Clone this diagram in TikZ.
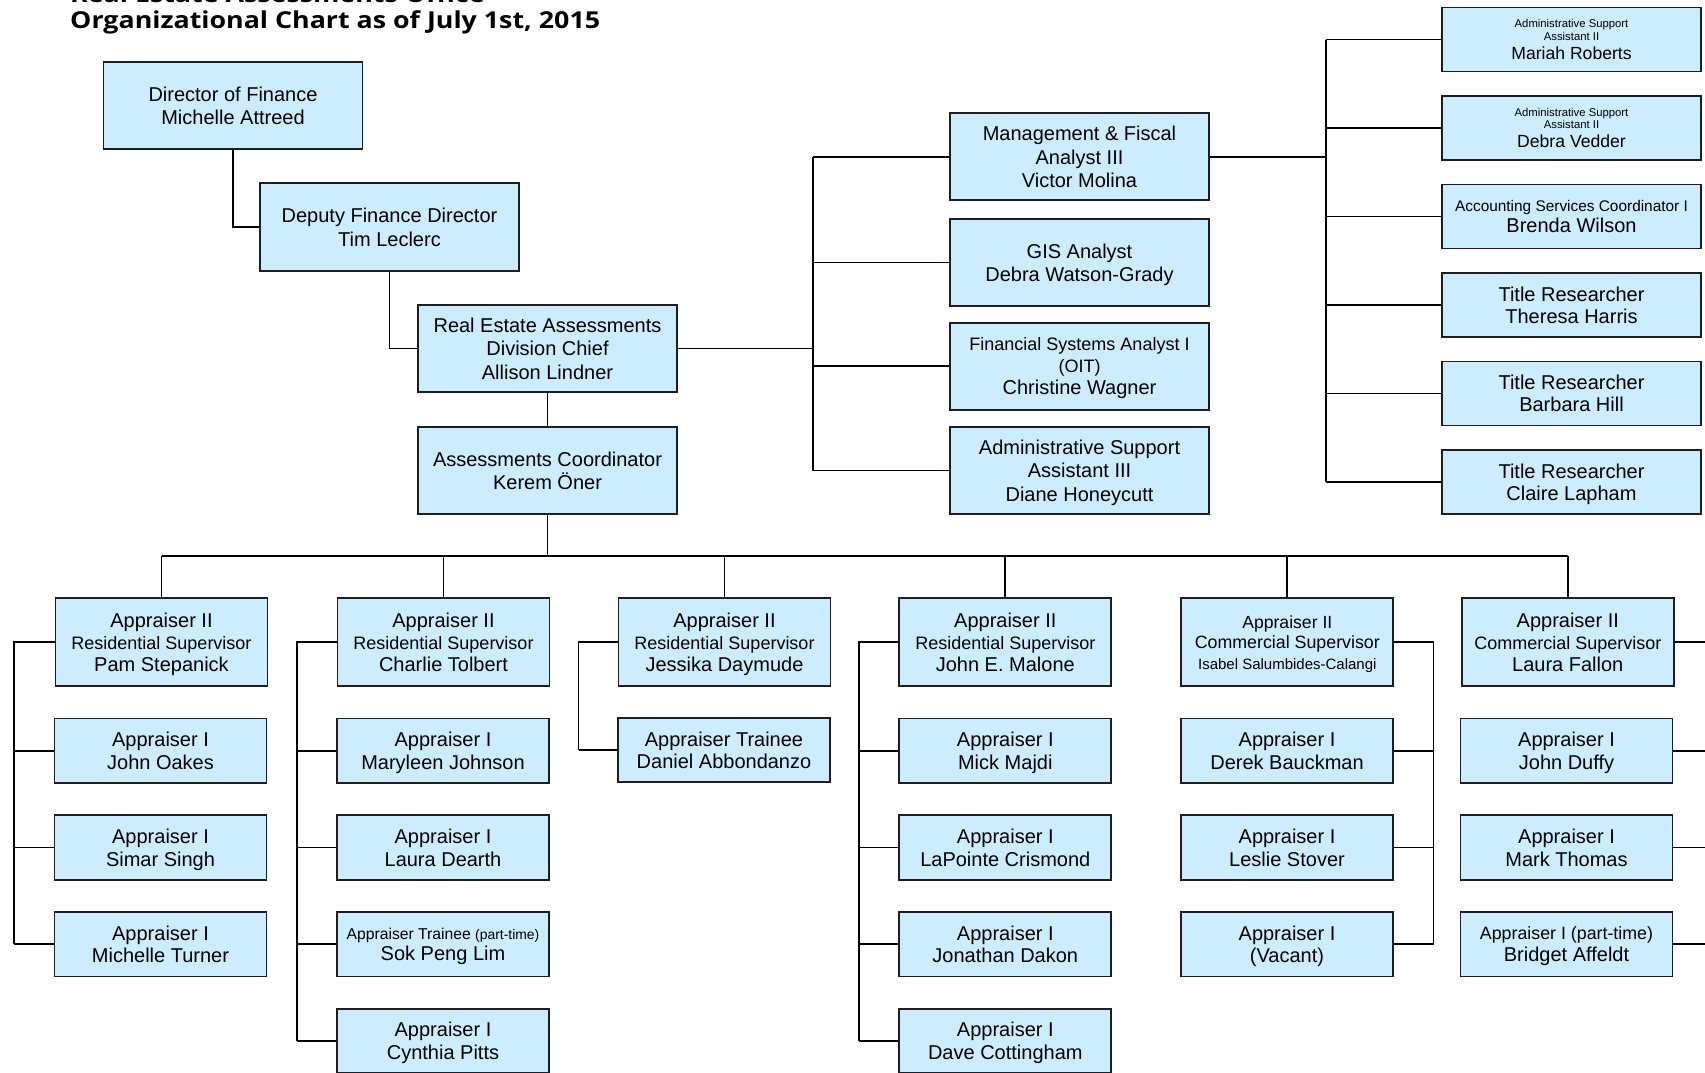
\documentclass[tikz,border=0pt]{standalone}
\usepackage{fontspec}
\setmainfont{Liberation Sans}
\newfontfamily\titlefont{Open Sans}
\definecolor{boxfill}{RGB}{204,236,255}
\definecolor{boxline}{RGB}{30,30,30}
\begin{document}
\begin{tikzpicture}[x=1pt,y=-1pt,
  box/.style={draw=boxline, fill=boxfill, line width=1.8pt, inner sep=0pt, align=center, text depth=0pt, font=\fontsize{20}{23.5}\selectfont},
  big/.style={box, minimum width=259pt, minimum height=87pt},
  rbox/.style={box, minimum width=259pt, minimum height=64pt, font=\fontsize{20}{21.7}\selectfont},
  sup/.style={box, minimum width=212pt, minimum height=88pt, font=\fontsize{20}{22}\selectfont},
  kid/.style={box, minimum width=212pt, minimum height=64.5pt, font=\fontsize{20}{22.5}\selectfont},
  conn/.style={draw=black, line width=1.8pt},
  ttl/.style={anchor=base west, inner sep=0pt, font=\titlefont\bfseries\fontsize{23.3}{25}\selectfont}
]
\useasboundingbox (0,0) rectangle (1705,1072);
\clip (0,0) rectangle (1705,1072);
\fill[white] (0,0) rectangle (1705,1072);

% title
\node[ttl] (t1) at (70,2.7) {\scalebox{1.15}[1]{Real Estate Assessments Office}};
\node[ttl] (t2) at (70,28.3) {\scalebox{1.15}[1]{Organizational Chart as of July 1st, 2015}};

% main chain
\node[big] (dir) at (233,105.5) {Director of Finance\\Michelle Attreed};
\node[big, minimum height=88pt] (dep) at (389.5,227) {Deputy Finance Director\\Tim Leclerc};
\node[big] (rea) at (547.5,348.5) {Real Estate Assessments\\Division Chief\\Allison Lindner};
\node[big] (ac) at (547.5,470.5) {Assessments Coordinator\\Kerem Öner};

% middle column
\node[big] (mfa) at (1079.5,156.8) {Management \& Fiscal\\Analyst III\\Victor Molina};
\node[big] (gis) at (1079.5,262.5) {GIS Analyst\\Debra Watson-Grady};
\node[big, font=\fontsize{20}{22}\selectfont] (fsa) at (1079.5,366.3) {{\fontsize{18}{18}\selectfont Financial Systems Analyst I}\\{\fontsize{18}{18}\selectfont (OIT)}\\Christine Wagner};
\node[big] (asa) at (1079.5,470.5) {Administrative Support\\Assistant III\\Diane Honeycutt};

% right column
\node[rbox, font=\fontsize{11.3}{12.6}\selectfont] (mr) at (1571.5,39.5) {Administrative Support\\Assistant II\\[5pt]{\fontsize{17.6}{19}\selectfont Mariah Roberts}};
\node[rbox, font=\fontsize{11.3}{12.6}\selectfont] (dv) at (1571.5,128) {Administrative Support\\Assistant II\\[5pt]{\fontsize{17.6}{19}\selectfont Debra Vedder}};
\node[rbox] (bw) at (1571.5,216.5) {{\fontsize{15.4}{16}\selectfont Accounting Services Coordinator I}\\Brenda Wilson};
\node[rbox] (th) at (1571.5,305) {Title Researcher\\Theresa Harris};
\node[rbox] (bh) at (1571.5,393.5) {Title Researcher\\Barbara Hill};
\node[rbox] (cl) at (1571.5,482) {Title Researcher\\Claire Lapham};

% supervisors
\node[sup] (s1) at (161.5,642.3) {Appraiser II\\{\fontsize{18}{18}\selectfont Residential Supervisor}\\Pam Stepanick};
\node[sup] (s2) at (443.5,642.3) {Appraiser II\\{\fontsize{18}{18}\selectfont Residential Supervisor}\\Charlie Tolbert};
\node[sup] (s3) at (724.5,642.3) {Appraiser II\\{\fontsize{18}{18}\selectfont Residential Supervisor}\\Jessika Daymude};
\node[sup] (s4) at (1005.3,642.3) {Appraiser II\\{\fontsize{18}{18}\selectfont Residential Supervisor}\\John E. Malone};
\node[sup, font=\fontsize{20}{20.5}\selectfont] (s5) at (1287.3,642.3) {{\fontsize{17.6}{18}\selectfont Appraiser II}\\{\fontsize{17.8}{18}\selectfont Commercial Supervisor}\\{\fontsize{15}{16}\selectfont Isabel Salumbides-Calangi}};
\node[sup] (s6) at (1567.8,642.3) {Appraiser II\\{\fontsize{18}{18}\selectfont Commercial Supervisor}\\Laura Fallon};

% column 1
\node[kid] (c1a) at (160.5,750.7) {Appraiser I\\John Oakes};
\node[kid] (c1b) at (160.5,847.5) {Appraiser I\\Simar Singh};
\node[kid] (c1c) at (160.5,944.2) {Appraiser I\\Michelle Turner};
% column 2
\node[kid] (c2a) at (443,750.7) {Appraiser I\\Maryleen Johnson};
\node[kid] (c2b) at (443,847.5) {Appraiser I\\Laura Dearth};
\node[kid, font=\fontsize{20}{20.5}\selectfont] (c2c) at (443,944.2) {{\fontsize{15.7}{16}\selectfont Appraiser Trainee {\fontsize{13.9}{14}\selectfont (part-time)}}\\Sok Peng Lim};
\node[kid] (c2d) at (443,1040.9) {Appraiser I\\Cynthia Pitts};
% column 3
\node[kid] (c3a) at (724,750) {Appraiser Trainee\\Daniel Abbondanzo};
% column 4
\node[kid] (c4a) at (1005.3,750.7) {Appraiser I\\Mick Majdi};
\node[kid] (c4b) at (1005.3,847.5) {Appraiser I\\LaPointe Crismond};
\node[kid] (c4c) at (1005.3,944.2) {Appraiser I\\Jonathan Dakon};
\node[kid] (c4d) at (1005.3,1040.9) {Appraiser I\\Dave Cottingham};
% column 5
\node[kid] (c5a) at (1287,750.7) {Appraiser I\\Derek Bauckman};
\node[kid] (c5b) at (1287,847.5) {Appraiser I\\Leslie Stover};
\node[kid] (c5c) at (1287,944.2) {Appraiser I\\(Vacant)};
% column 6
\node[kid] (c6a) at (1566.5,750.7) {Appraiser I\\John Duffy};
\node[kid] (c6b) at (1566.5,847.5) {Appraiser I\\Mark Thomas};
\node[kid] (c6c) at (1566.5,944.2) {{\fontsize{17.8}{18}\selectfont Appraiser I (part-time)}\\Bridget Affeldt};

% connectors: main chain
\draw[conn] (dir.south) |- (dep.west);
\draw[conn] (dep.south) |- (rea.west);
\draw[conn] (rea.south) -- (ac.north);

% middle bus
\coordinate (bm) at (813,0);
\draw[conn] (rea.east) -- (bm |- rea.east);
\draw[conn] (bm |- mfa.west) -- (bm |- asa.west);
\foreach \n in {mfa,gis,fsa,asa} \draw[conn] (bm |- \n.west) -- (\n.west);

% right bus
\coordinate (br) at (1325.7,0);
\draw[conn] (mfa.east) -- (br |- mfa.east);
\draw[conn] (br |- mr.west) -- (br |- cl.west);
\foreach \n in {mr,dv,bw,th,bh,cl} \draw[conn] (br |- \n.west) -- (\n.west);

% bottom bar
\coordinate (bar) at (0,556);
\draw[conn] (ac.south) -- (ac.south |- bar);
\draw[conn] (bar -| s1.north) -- (bar -| s6.north);
\foreach \n in {s1,s2,s3,s4,s5,s6} \draw[conn] (bar -| \n.north) -- (\n.north);

% column buses
\coordinate (b1) at (14,0);
\coordinate (b2) at (297,0);
\coordinate (b3) at (578.5,0);
\coordinate (b4) at (859.3,0);
\coordinate (b5) at (1433.5,0);
\coordinate (b6) at (1714,0);

\draw[conn] (s1.west) -- (b1 |- s1.west) -- (b1 |- c1c.west);
\foreach \n in {c1a,c1b,c1c} \draw[conn] (b1 |- \n.west) -- (\n.west);

\draw[conn] (s2.west) -- (b2 |- s2.west) -- (b2 |- c2d.west);
\foreach \n in {c2a,c2b,c2c,c2d} \draw[conn] (b2 |- \n.west) -- (\n.west);

\draw[conn] (s3.west) -- (b3 |- s3.west) -- (b3 |- c3a.west);
\draw[conn] (b3 |- c3a.west) -- (c3a.west);

\draw[conn] (s4.west) -- (b4 |- s4.west) -- (b4 |- c4d.west);
\foreach \n in {c4a,c4b,c4c,c4d} \draw[conn] (b4 |- \n.west) -- (\n.west);

\draw[conn] (s5.east) -- (b5 |- s5.east) -- (b5 |- c5c.east);
\foreach \n in {c5a,c5b,c5c} \draw[conn] (b5 |- \n.east) -- (\n.east);

\draw[conn] (s6.east) -- (b6 |- s6.east) -- (b6 |- c6c.east);
\foreach \n in {c6a,c6b,c6c} \draw[conn] (b6 |- \n.east) -- (\n.east);
\end{tikzpicture}
\end{document}
